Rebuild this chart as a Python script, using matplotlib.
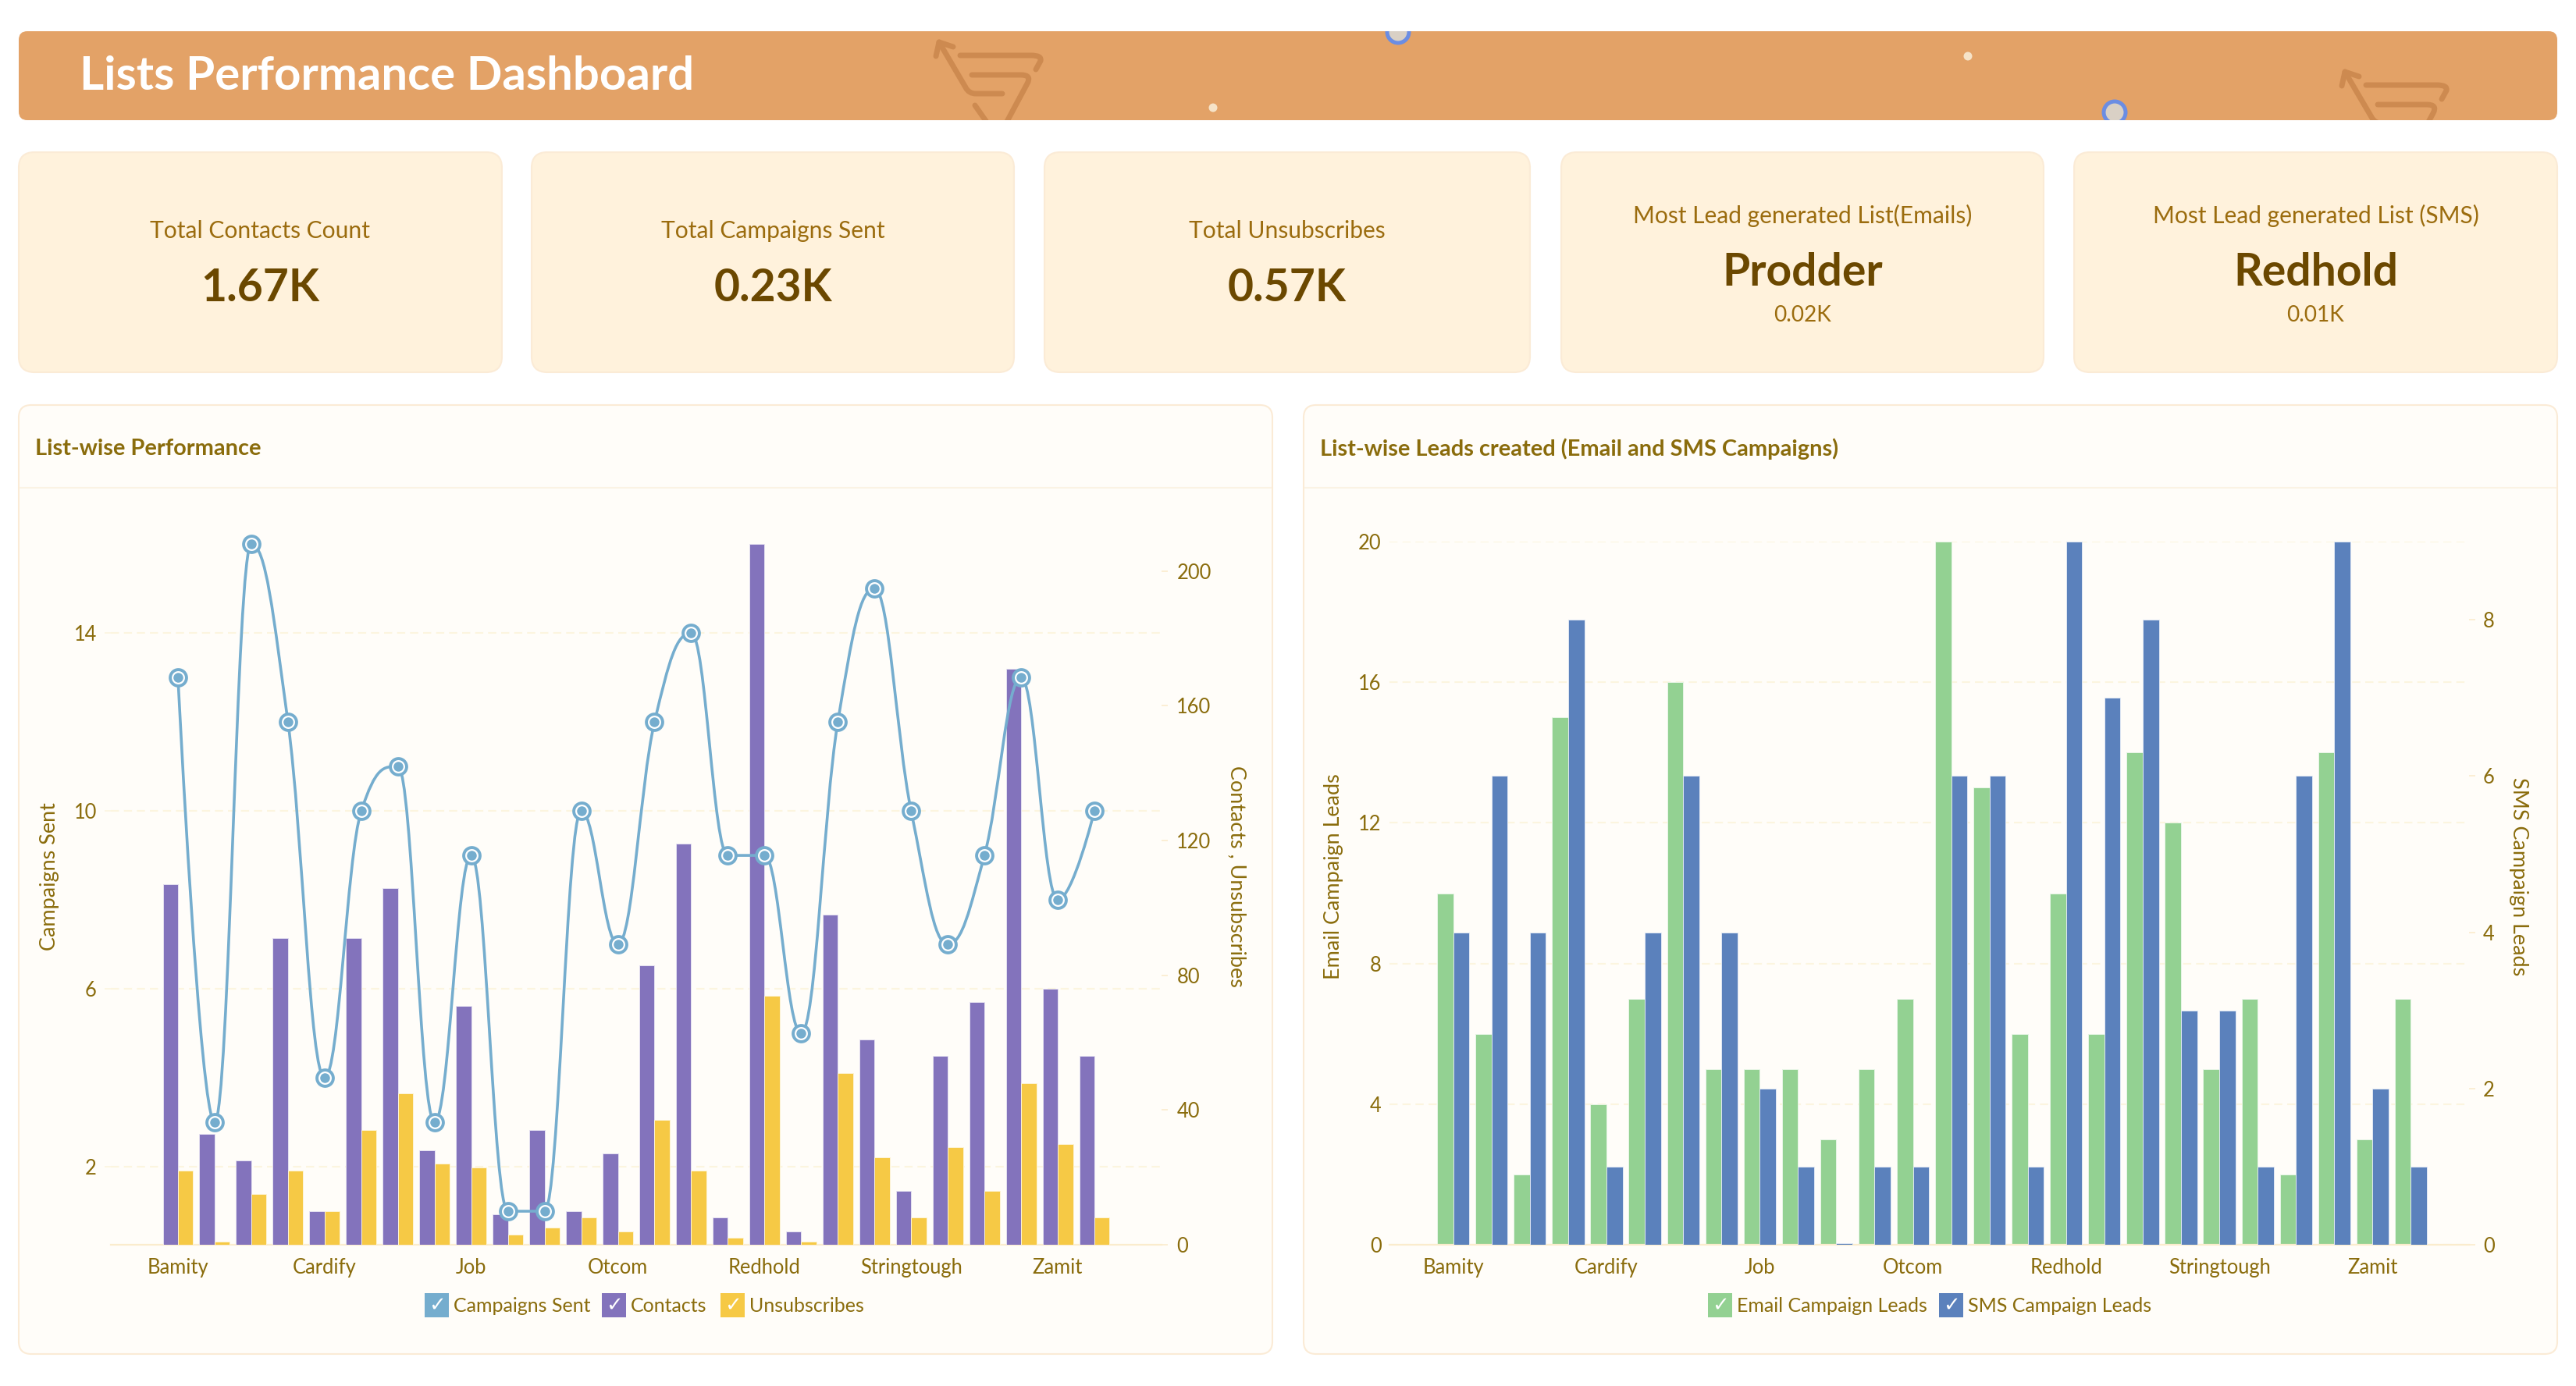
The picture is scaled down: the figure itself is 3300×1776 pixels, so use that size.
import numpy as np
import matplotlib
matplotlib.use("Agg")
import matplotlib.pyplot as plt
from matplotlib.patches import FancyBboxPatch, Circle, PathPatch, Rectangle
from matplotlib.path import Path

plt.rcParams['font.family'] = ['Lato', 'DejaVu Sans']

W, H = 3300, 1776

# data
tick_names = ["Bamity", "Cardify", "Job", "Otcom", "Redhold", "Stringtough", "Zamit"]
campaigns = [13, 3, 16, 12, 4, 10, 11, 3, 9, 1, 1, 10, 7, 12, 14, 9, 9, 5, 12, 15, 10, 7, 9, 13, 8, 10]
contacts = [107, 33, 25, 91, 10, 91, 106, 28, 71, 9, 34, 10, 27, 83, 119, 8, 208, 4, 98, 61, 16, 56, 72, 171, 76, 56]
unsubs = [22, 1, 15, 22, 10, 34, 45, 24, 23, 3, 5, 8, 4, 37, 22, 2, 74, 1, 51, 26, 8, 29, 16, 48, 30, 8]
email_leads = [10, 6, 2, 15, 4, 7, 16, 5, 5, 5, 3, 5, 7, 20, 13, 6, 10, 6, 14, 12, 5, 7, 2, 14, 3, 7]
sms_leads = [4, 6, 4, 8, 1, 4, 6, 4, 2, 1, 0.02, 1, 1, 6, 6, 1, 9, 7, 8, 3, 3, 1, 6, 9, 2, 1]

ORANGE = '#e3a267'
CART = '#cd8a50'
CARD = '#fff2dc'
CARD_EDGE = '#fbebd6'
PANEL = '#fffdf9'
TXT = '#8a6c0c'
LABEL = '#9b6c0e'
VALUE = '#6b4800'
GRID = '#fcf5df'
BASE = '#fbeccd'
LINE_C = '#75adce'
PURPLE = '#8373bc'
YELLOW = '#f6c945'
GREEN = '#93d192'
BLUE = '#5b81bc'


def fs(px):
    # font size in points from css-like pixels at dpi 100
    return px * 0.72


def axes_px(x0, y0, x1, y1):
    return fig.add_axes([x0 / W, 1 - y1 / H, (x1 - x0) / W, (y1 - y0) / H])


def round_box(ax, x0, y0, x1, y1, r, fc, ec='none', lw=0):
    p = FancyBboxPatch((x0, y0), x1 - x0, y1 - y0, boxstyle=f"round,pad=0,rounding_size={r}",
                       fc=fc, ec=ec, lw=lw)
    ax.add_patch(p)
    return p


def spline_path(x, y):
    # bezier segments, horizontal tangent at local extremes
    n = len(x)
    left = [(x[0], y[0])] * n
    right = [(x[0], y[0])] * n
    for i in range(n):
        if i == 0 or i == n - 1:
            left[i] = right[i] = (x[i], y[i])
            continue
        lx = (1.5 * x[i] + x[i - 1]) / 2.5
        ly = (1.5 * y[i] + y[i - 1]) / 2.5
        rx = (1.5 * x[i] + x[i + 1]) / 2.5
        ry = (1.5 * y[i] + y[i + 1]) / 2.5
        corr = (ry - ly) * (rx - x[i]) / (rx - lx) + y[i] - ry
        ly += corr
        ry += corr
        if ly > y[i] and ly > y[i - 1]:
            ly = max(y[i - 1], y[i])
            ry = 2 * y[i] - ly
        elif ly < y[i] and ly < y[i - 1]:
            ly = min(y[i - 1], y[i])
            ry = 2 * y[i] - ly
        if ry > y[i] and ry > y[i + 1]:
            ry = max(y[i + 1], y[i])
            ly = 2 * y[i] - ry
        elif ry < y[i] and ry < y[i + 1]:
            ry = min(y[i + 1], y[i])
            ly = 2 * y[i] - ry
        left[i] = (lx, ly)
        right[i] = (rx, ry)
    verts = [(x[0], y[0])]
    codes = [Path.MOVETO]
    for i in range(1, n):
        verts += [right[i - 1], left[i], (x[i], y[i])]
        codes += [Path.CURVE4] * 3
    return Path(verts, codes)


def style_axes(ax, ax2, xlim):
    ax.set_xlim(*xlim)
    ax.set_xticks(range(0, 26, 4))
    ax.set_xticklabels(tick_names)
    ax.tick_params(axis='x', length=0, pad=12, labelsize=fs(25.5), labelcolor=TXT)
    ax.patch.set_visible(False)
    ax2.patch.set_visible(False)
    for a in (ax, ax2):
        for s in a.spines.values():
            s.set_visible(False)
    ax.spines['bottom'].set_visible(True)
    ax.spines['bottom'].set_color(BASE)
    ax.spines['bottom'].set_linewidth(1.6)
    ax.grid(axis='y', color=GRID, lw=1.5, ls=(0, (5, 3)))
    ax.set_axisbelow(True)


fig = plt.figure(figsize=(W / 100, H / 100), dpi=100, facecolor='white')
bg = fig.add_axes([0, 0, 1, 1])
bg.set_xlim(0, W)
bg.set_ylim(H, 0)
bg.axis('off')

# header band with its clipped decoration
head = round_box(bg, 24, 40, 3276, 154, 11, ORANGE)


def cart(dx, dy):
    M, L, C = Path.MOVETO, Path.LINETO, Path.CURVE3
    strokes = [
        # arrow with the lower basket bar
        ([(1199, 72), (1203, 54), (1221, 60)], [M, L, L]),
        ([(1203, 54), (1237, 112), (1241, 120), (1250, 120), (1284, 120)], [M, L, C, C, L]),
        # top bar
        ([(1230, 71), (1321, 71), (1335, 71), (1333, 78), (1327, 89)], [M, L, C, C, L]),
        # middle bar going down
        ([(1245, 96), (1308, 96), (1322, 96), (1316, 107), (1285, 165)], [M, L, C, C, L]),
        # wheel stub
        ([(1249, 135), (1270, 165)], [M, L]),
    ]
    for pts, codes in strokes:
        p = PathPatch(Path(np.array(pts) + [dx, dy], codes), fc='none', ec=CART, lw=5,
                      capstyle='round', joinstyle='round')
        bg.add_patch(p)
        p.set_clip_path(head)


cart(0, 0)
cart(1801, 38)

for cx, cy in [(1554, 138), (2521, 72)]:
    bg.add_patch(Circle((cx, cy), 5.5, fc='#f6e3c8', ec='none'))
for cx, cy in [(1791, 41), (2709, 144)]:
    c = Circle((cx, cy), 14, fc='#d9d0c5', ec='#6b8de3', lw=3.6)
    bg.add_patch(c)
    c.set_clip_path(head)

bg.text(102, 98, "Lists Performance Dashboard", color='white', fontsize=fs(60), fontweight='bold',
        va='center', ha='left')

# kpi cards
card_x = [(24, 643), (681, 1299), (1338, 1960), (2000, 2618), (2657, 3276)]
for x0, x1 in card_x:
    round_box(bg, x0, 195, x1, 477, 20, CARD, CARD_EDGE, 1.5)

plain_cards = [("Total Contacts Count", "1.67K"), ("Total Campaigns Sent", "0.23K"), ("Total Unsubscribes", "0.57K")]
for (x0, x1), (lab, val) in zip(card_x[:3], plain_cards):
    cx = (x0 + x1) / 2
    bg.text(cx, 296, lab, color=LABEL, fontsize=fs(30), ha='center', va='center')
    bg.text(cx, 369, val, color=VALUE, fontsize=fs(57), fontweight='bold', ha='center', va='center')

top_cards = [("Most Lead generated List(Emails)", "Prodder", "0.02K"),
             ("Most Lead generated List (SMS)", "Redhold", "0.01K")]
for (x0, x1), (lab, val, sub) in zip(card_x[3:], top_cards):
    cx = (x0 + x1) / 2
    bg.text(cx, 276, lab, color=LABEL, fontsize=fs(30), ha='center', va='center')
    bg.text(cx, 349, val, color=VALUE, fontsize=fs(57), fontweight='bold', ha='center', va='center')
    bg.text(cx, 404, sub, color=LABEL, fontsize=fs(28), ha='center', va='center')

# chart panels
for x0, x1, title in [(24, 1630, "List-wise Performance"),
                      (1670, 3276, "List-wise Leads created (Email and SMS Campaigns)")]:
    round_box(bg, x0, 519, x1, 1735, 16, PANEL, CARD_EDGE, 1.5)
    bg.plot([x0 + 2, x1 - 2], [625, 625], color='#fbf3e4', lw=1.5)
    bg.text(x0 + 21, 575, title, color=TXT, fontsize=fs(29), fontweight='bold', ha='left', va='center')

# left chart
idx = np.arange(len(campaigns))
bw = 0.415
ax = axes_px(142, 696, 1488, 1595)
ax2 = ax.twinx()
x_a = (142 - 228) / 46.96
x_b = (1488 - 228) / 46.96
style_axes(ax, ax2, (x_a, x_b))
ax.set_ylim(0.246, 16.02)
ax.set_yticks([2, 6, 10, 14])
ax.tick_params(axis='y', length=6, width=1.2, color=GRID, pad=7, labelsize=fs(25.5), labelcolor=TXT)
ax2.set_ylim(0, 208.3)
ax2.set_yticks([0, 40, 80, 120, 160, 200])
ax2.tick_params(axis='y', length=6, width=1.2, color=BASE, pad=8, labelsize=fs(25.5), labelcolor=TXT)
ax2.bar(idx - bw / 2, contacts, bw, color=PURPLE, edgecolor='#e4e0f0', lw=0.7, zorder=2)
ax2.bar(idx + bw / 2, unsubs, bw, color=YELLOW, edgecolor='#fdf3d4', lw=0.7, zorder=2)
ax2.add_patch(PathPatch(spline_path(idx.astype(float), np.array(campaigns, float)), fc='none', ec=LINE_C,
                        lw=2.6, transform=ax.transData, zorder=4, clip_on=False))
ax2.plot(idx, campaigns, ls='none', marker='o', ms=15, mfc='white', mec=LINE_C, mew=2.8,
         transform=ax.transData, zorder=5, clip_on=False)
ax2.plot(idx, campaigns, ls='none', marker='o', ms=9, mfc=LINE_C, mec='none',
         transform=ax.transData, zorder=6, clip_on=False)

# right chart
ax3 = axes_px(1780, 694, 3163, 1595)
ax4 = ax3.twinx()
x_a = (1780 - 1861.7) / 49.07
x_b = (3163 - 1861.7) / 49.07
style_axes(ax3, ax4, (x_a, x_b))
ax3.set_ylim(0, 20)
ax3.set_yticks([0, 4, 8, 12, 16, 20])
ax3.tick_params(axis='y', length=0, pad=7.5, labelsize=fs(25.5), labelcolor=TXT)
ax4.set_ylim(0, 9)
ax4.set_yticks([0, 2, 4, 6, 8])
ax4.tick_params(axis='y', length=6, width=1.2, color=BASE, pad=7, labelsize=fs(25.5), labelcolor=TXT)
bw = 0.42
ax3.bar(idx - bw / 2, email_leads, bw, color=GREEN, edgecolor='#e6f5e5', lw=0.7, zorder=2)
ax4.bar(idx + bw / 2, sms_leads, bw, color=BLUE, edgecolor='#dfe7f3', lw=0.7, zorder=2)

# axis titles
for x, txt, rot in [(64, "Campaigns Sent", 90), (1584, "Contacts , Unsubscribes", 270),
                    (1709, "Email Campaign Leads", 90), (3227, "SMS Campaign Leads", 270)]:
    fig.text(x / W, 1 - 1123 / H, txt, color=TXT, fontsize=fs(27), rotation=rot, ha='center', va='center')

# legends
legend_left = [(544, LINE_C, "Campaigns Sent"), (771, PURPLE, "Contacts"), (923, YELLOW, "Unsubscribes")]
legend_right = [(2188, GREEN, "Email Campaign Leads"), (2484, BLUE, "SMS Campaign Leads")]
for x0, col, lab in legend_left + legend_right:
    bg.add_patch(Rectangle((x0, 1657), 31, 31, fc=col, ec='none', zorder=3))
    bg.text(x0 + 15.5, 1673, "\u2713", color='white', fontsize=fs(26), family='DejaVu Sans',
            ha='center', va='center', zorder=4)
    bg.text(x0 + 37, 1673, lab, color=TXT, fontsize=fs(25), ha='left', va='center', zorder=4)

fig.savefig("out.png", dpi=100, facecolor='white')
